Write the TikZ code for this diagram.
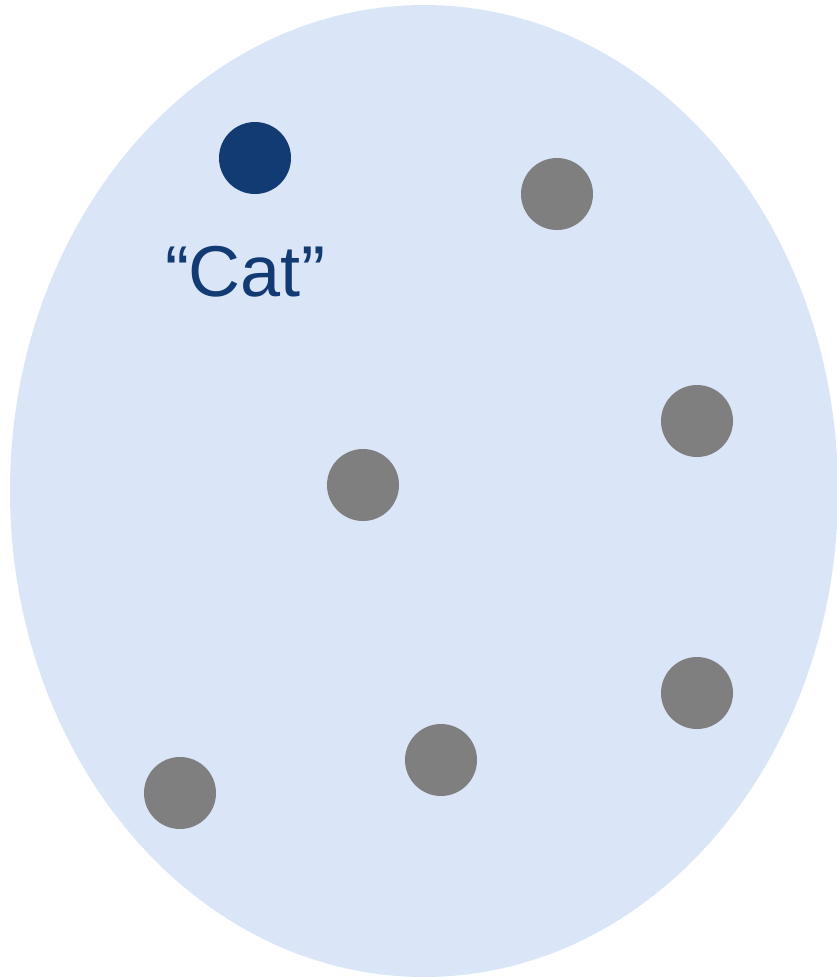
\documentclass[tikz,border=0pt]{standalone}
\usepackage{fontspec}
\setmainfont{Liberation Sans}
\usetikzlibrary{positioning}

\definecolor{setfill}{RGB}{218,230,248}
\definecolor{catblue}{RGB}{18,58,115}
\definecolor{dotgray}{RGB}{127,127,127}

\tikzset{
  dot/.style={circle,fill=#1,inner sep=0pt,minimum size=54pt},
  dot/.default=dotgray
}

\begin{document}
\begin{tikzpicture}[x=0.75pt,y=-0.75pt]
\useasboundingbox (0,0) rectangle (836,978);
\fill[setfill] (424,491) ellipse [x radius=414, y radius=486];

\node[dot=catblue] (cat) at (255,158) {};
\node[text=catblue,font=\fontsize{54}{58}\selectfont,below=58pt of cat.south,anchor=center,xshift=-7.5pt] (catlabel) {“Cat”};

\node[dot] (w1) at (557,194) {};
\node[dot] (w2) at (697,421) {};
\node[dot] (w3) at (363,485) {};
\node[dot] (w4) at (697,693) {};
\node[dot] (w5) at (441,760) {};
\node[dot] (w6) at (180,793) {};
\end{tikzpicture}
\end{document}
